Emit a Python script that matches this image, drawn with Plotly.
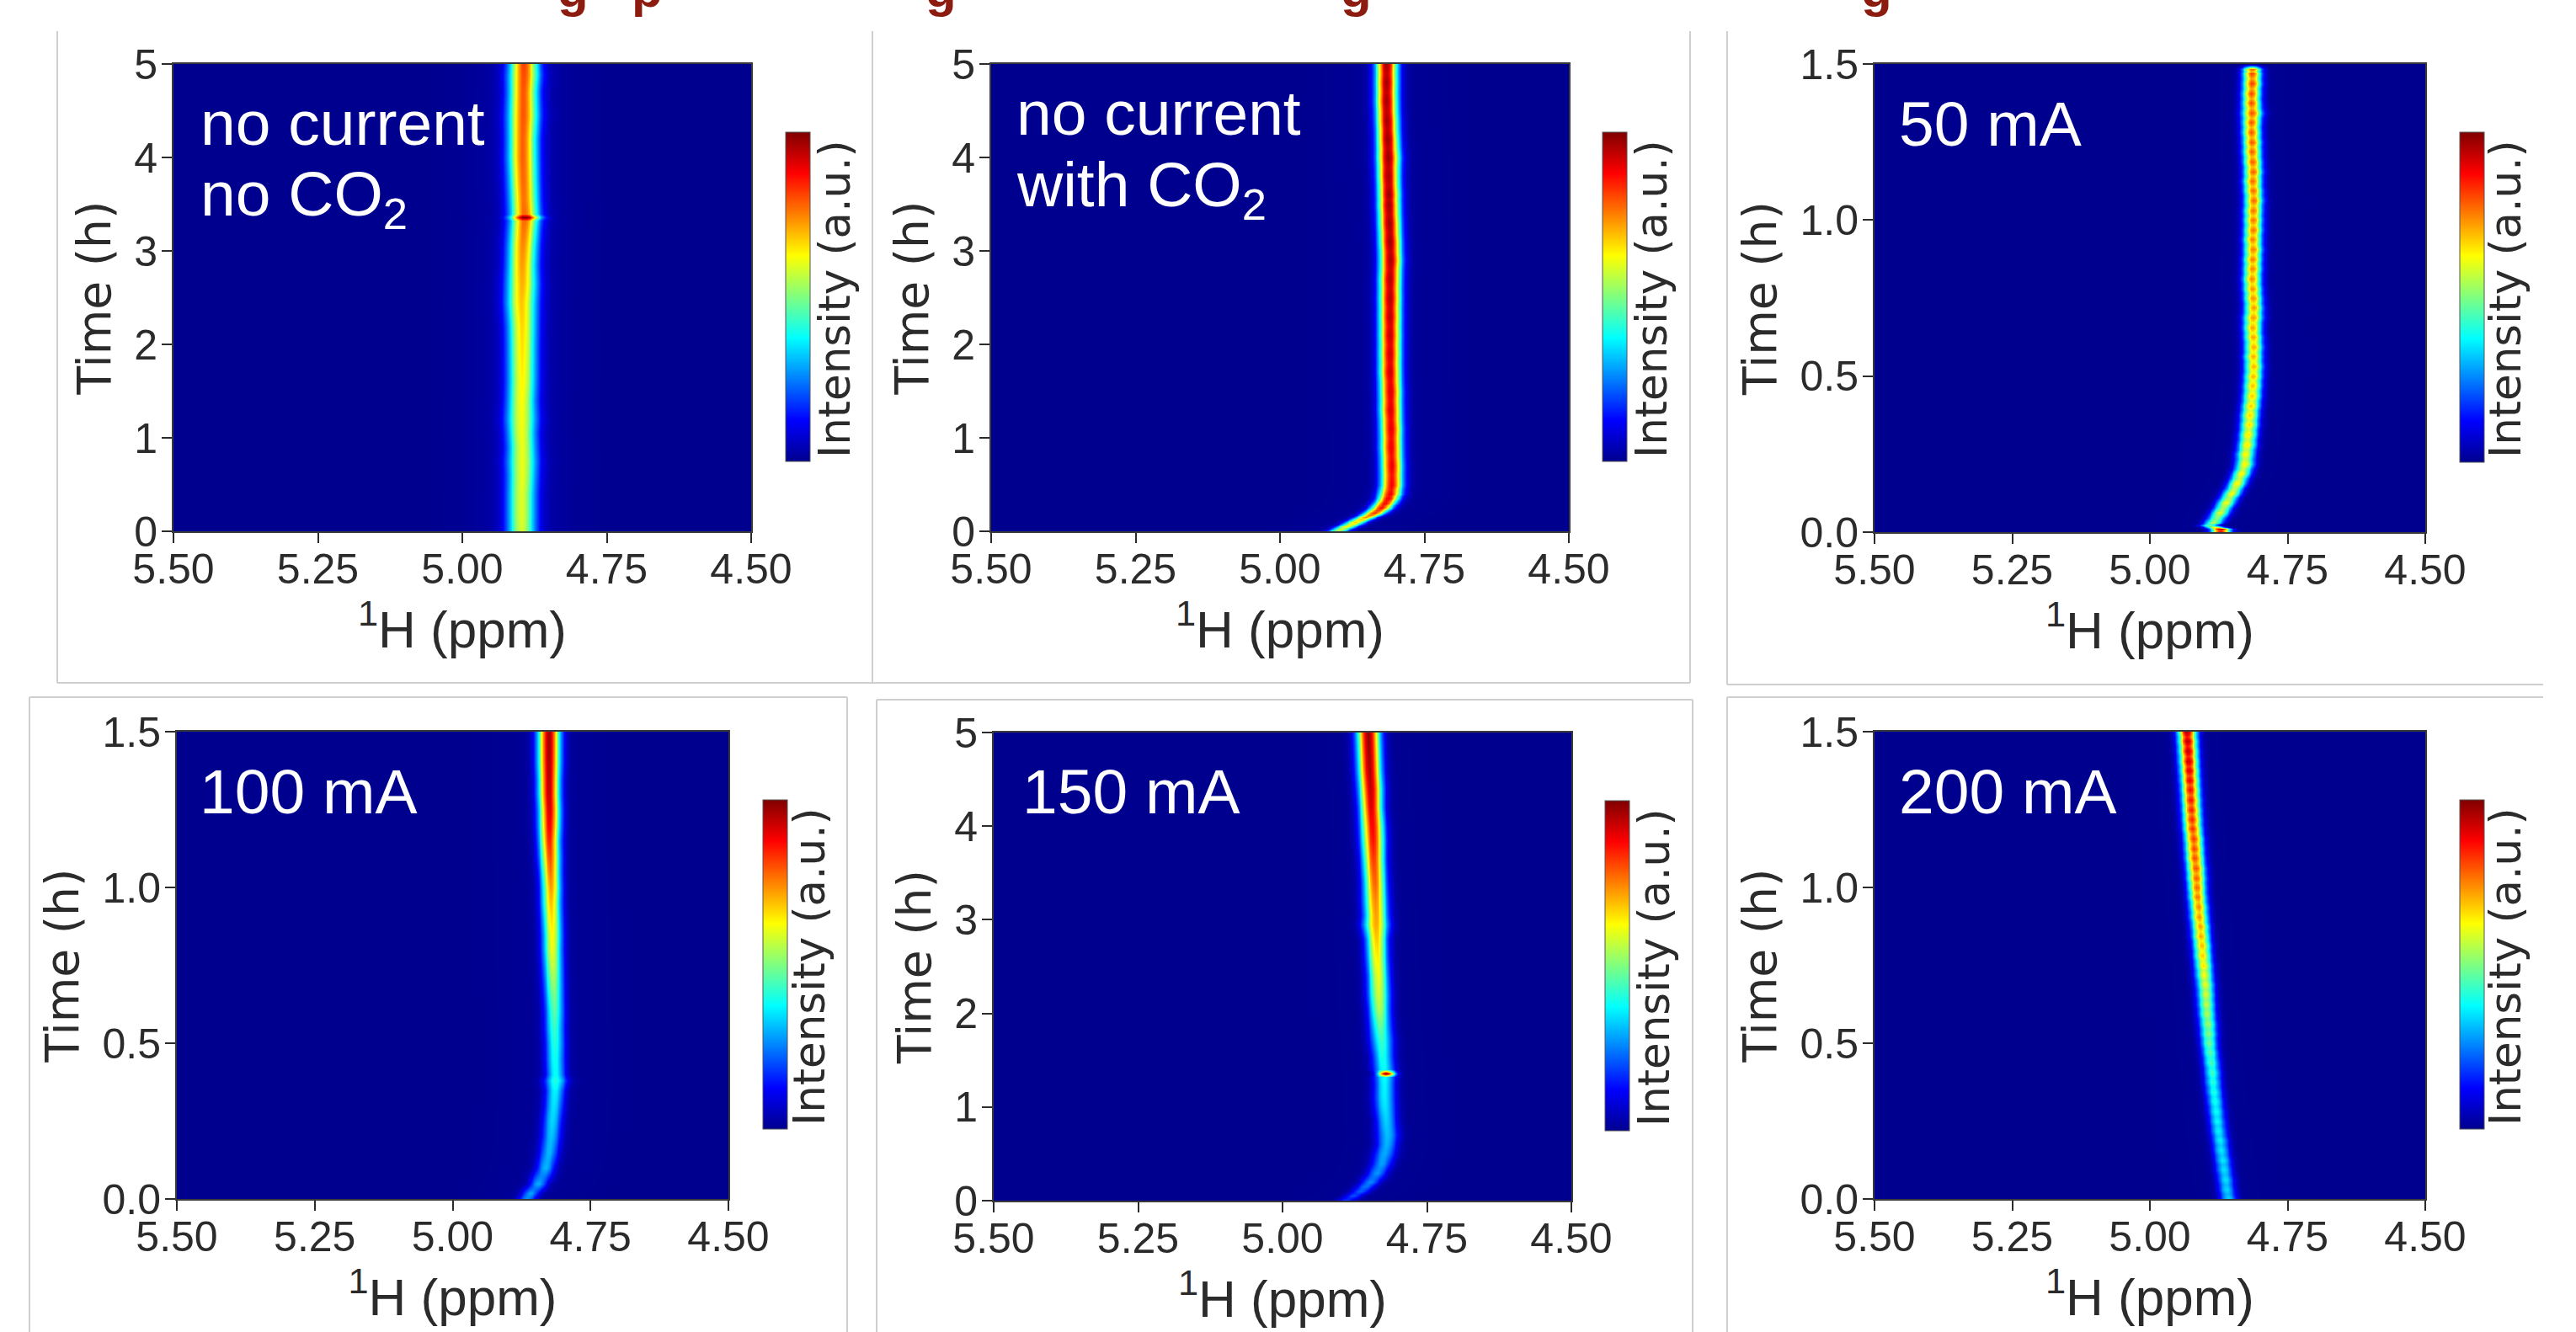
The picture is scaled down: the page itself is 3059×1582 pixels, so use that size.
import numpy as np
import plotly.graph_objects as go

W, H = 3059, 1582

# ---------- values ----------
ppm_ticks = [5.50, 5.25, 5.00, 4.75, 4.50]
ppm_labels = ["5.50", "5.25", "5.00", "4.75", "4.50"]
long_ticks = [0, 1, 2, 3, 4, 5]
long_labels = ["0", "1", "2", "3", "4", "5"]
short_ticks = [0.0, 0.5, 1.0, 1.5]
short_labels = ["0.0", "0.5", "1.0", "1.5"]

# per-row readings: time (h), peak centre (ppm), peak intensity (0-1), peak width (ppm)
t_a = [0, .2, .4, .6, .75, .9, 1.05, 1.2, 1.4, 1.6, 1.8, 2.0, 2.2, 2.45, 2.65, 2.85, 3.05, 3.25, 3.32, 3.36, 3.40, 3.55, 3.75, 4.0, 4.2, 4.45, 4.7, 4.88, 5]
c_a = [4.898, 4.898, 4.898, 4.897, 4.897, 4.897, 4.898, 4.898, 4.898, 4.897, 4.897, 4.897, 4.897, 4.898, 4.897, 4.897, 4.896, 4.894, 4.893, 4.892, 4.893, 4.894, 4.895, 4.896, 4.896, 4.895, 4.895, 4.894, 4.894]
h_a = [.55, .56, .56, .57, .57, .57, .58, .58, .59, .60, .61, .62, .63, .65, .67, .69, .71, .73, .74, 1.0, .74, .73, .74, .75, .75, .76, .76, .77, .78]
s_a = [.017, .017, .017, .0172, .0178, .017, .017, .018, .017, .017, .017, .017, .0172, .018, .018, .017, .017, .017, .017, .0175, .017, .017, .017, .0172, .017, .0178, .017, .0178, .017]

t_b = [0, .05, .1, .15, .2, .25, .3, .35, .4, .5, .7, .9, 1.1, 1.3, 1.5, 1.7, 1.9, 2.1, 2.3, 2.5, 2.7, 2.9, 3.1, 3.3, 3.5, 3.6, 3.8, 4.0, 4.2, 4.4, 4.6, 4.8, 5]
c_b = [4.902, 4.885, 4.870, 4.852, 4.837, 4.825, 4.819, 4.813, 4.810, 4.807, 4.807, 4.808, 4.808, 4.809, 4.809, 4.810, 4.810, 4.810, 4.810, 4.810, 4.810, 4.809, 4.810, 4.811, 4.812, 4.812, 4.813, 4.813, 4.814, 4.815, 4.816, 4.816, 4.816]
h_b = [.58, .62, .66, .74, .82, .86, .87, .88, .88, .88, .89, .89, .90, .91, .91, .92, .92, .93, .94, .95, .95, .96, .97, .97, .97, .97, .96, .97, .97, .96, .96, .96, .96]
s_b = [.011, .012, .012, .012, .013, .013, .013, .013, .0135, .013, .013, .013, .013, .013, .013, .013, .013, .013, .013, .013, .013, .013, .013, .013, .013, .013, .013, .0135, .013, .013, .013, .013, .013]

t_c = [0, .011, .022, .031, .0625, .094, .125, .156, .188, .219, .25, .281, .313, .344, .375, .406, .438, .469, .5, .531, .563, .594, .625, .656, .688, .719, .75, .781, .813, .844, .875, .906, .938, .969, 1.0, 1.031, 1.063, 1.094, 1.125, 1.156, 1.188, 1.219, 1.25, 1.281, 1.313, 1.344, 1.375, 1.406, 1.438, 1.469, 1.485, 1.5]
c_c = [4.872, 4.872, 4.892, 4.885, 4.873, 4.862, 4.852, 4.842, 4.834, 4.828, 4.827, 4.824, 4.822, 4.820, 4.819, 4.817, 4.815, 4.814, 4.813, 4.812, 4.813, 4.812, 4.813, 4.814, 4.813, 4.812, 4.813, 4.814, 4.815, 4.814, 4.814, 4.813, 4.814, 4.813, 4.813, 4.813, 4.812, 4.813, 4.814, 4.813, 4.814, 4.815, 4.815, 4.816, 4.816, 4.815, 4.816, 4.816, 4.815, 4.815, 4.815, 4.815]
h_c = [.92, .95, .48, .55, .60, .62, .63, .64, .64, .64, .64, .65, .65, .66, .67, .68, .68, .69, .70, .70, .71, .71, .72, .72, .73, .73, .74, .74, .75, .75, .76, .76, .76, .77, .77, .77, .78, .78, .78, .79, .79, .79, .80, .80, .80, .80, .81, .81, .82, .82, .78, 0]
s_c = [.012, .012, .0115, .0115, .0115, .0115, .0115, .0115, .0115, .0115, .0115, .0115, .0115, .0115, .0115, .0115, .0115, .0115, .0115, .0115, .0115, .0115, .0115, .0115, .012, .0115, .0115, .0115, .0115, .0115, .0115, .0115, .0115, .0115, .0115, .0115, .0115, .0115, .0115, .0115, .0115, .0115, .0115, .0115, .0115, .0125, .0115, .0115, .0115, .0115, .0115, .0115]

t_d = [0, .02, .05, .1, .15, .2, .25, .3, .35, .38, .4, .45, .5, .55, .6, .65, .7, .75, .8, .85, .9, .95, 1.0, 1.05, 1.1, 1.15, 1.2, 1.25, 1.3, 1.35, 1.4, 1.45, 1.5]
c_d = [4.866, 4.859, 4.845, 4.832, 4.826, 4.822, 4.820, 4.817, 4.815, 4.814, 4.814, 4.815, 4.815, 4.816, 4.816, 4.817, 4.818, 4.819, 4.820, 4.820, 4.821, 4.822, 4.822, 4.823, 4.824, 4.825, 4.825, 4.825, 4.826, 4.826, 4.826, 4.826, 4.826]
h_d = [.26, .28, .29, .30, .30, .31, .33, .34, .36, .40, .37, .38, .40, .42, .45, .48, .52, .56, .60, .62, .65, .68, .72, .76, .80, .84, .88, .91, .93, .94, .95, .96, .96]
s_d = [.011, .011, .011, .0115, .012, .012, .012, .012, .012, .014, .012, .012, .012, .012, .012, .012, .012, .012, .012, .012, .012, .012, .012, .012, .0125, .0125, .013, .013, .013, .013, .0135, .0135, .0135]

t_e = [0, .05, .1, .15, .2, .3, .4, .5, .6, .7, .85, 1.0, 1.1, 1.25, 1.32, 1.36, 1.40, 1.55, 1.72, 1.85, 2.05, 2.2, 2.4, 2.6, 2.8, 2.95, 3.05, 3.2, 3.4, 3.65, 3.85, 4.0, 4.2, 4.4, 4.6, 4.8, 5]
c_e = [4.891, 4.878, 4.866, 4.857, 4.849, 4.837, 4.829, 4.824, 4.820, 4.819, 4.821, 4.823, 4.824, 4.824, 4.824, 4.821, 4.825, 4.827, 4.829, 4.831, 4.833, 4.834, 4.835, 4.837, 4.838, 4.839, 4.839, 4.840, 4.841, 4.843, 4.844, 4.845, 4.847, 4.848, 4.850, 4.851, 4.852]
h_e = [.18, .20, .22, .24, .26, .27, .28, .29, .30, .31, .33, .35, .36, .37, .38, 1.0, .38, .40, .43, .47, .55, .58, .61, .64, .68, .71, .72, .74, .78, .82, .86, .88, .91, .94, .96, .97, .98]
s_e = [.010, .0105, .011, .0115, .0115, .012, .0125, .0135, .0125, .0135, .0125, .013, .013, .0125, .013, .0105, .013, .0125, .0135, .013, .0125, .013, .0125, .0125, .0125, .0145, .0135, .0135, .013, .013, .0135, .0135, .013, .0135, .0135, .0135, .0135]

t_f = [0, .031, .0625, .094, .125, .156, .188, .219, .25, .281, .313, .344, .375, .406, .438, .469, .5, .531, .563, .594, .625, .656, .688, .719, .75, .781, .813, .844, .875, .906, .938, .969, 1.0, 1.031, 1.063, 1.094, 1.125, 1.156, 1.188, 1.219, 1.25, 1.281, 1.313, 1.344, 1.375, 1.406, 1.438, 1.469, 1.5]
c_f = [4.858, 4.861, 4.863, 4.866, 4.868, 4.871, 4.873, 4.876, 4.878, 4.880, 4.882, 4.884, 4.886, 4.887, 4.889, 4.891, 4.893, 4.894, 4.895, 4.897, 4.898, 4.899, 4.900, 4.902, 4.903, 4.905, 4.906, 4.908, 4.909, 4.911, 4.912, 4.914, 4.915, 4.916, 4.917, 4.919, 4.920, 4.921, 4.923, 4.924, 4.925, 4.926, 4.927, 4.928, 4.929, 4.930, 4.931, 4.932, 4.933]
h_f = [.34, .34, .35, .35, .36, .36, .37, .37, .38, .39, .40, .41, .42, .44, .45, .47, .49, .51, .53, .55, .57, .59, .61, .63, .66, .68, .70, .72, .73, .74, .75, .77, .78, .79, .80, .81, .82, .83, .84, .85, .86, .87, .88, .90, .92, .94, .95, .96, .97]
s_f = [.0105] * 17 + [.011] * 16 + [.0115] * 16

titles = [["no current", "no CO<sub>2</sub>"], ["no current", "with CO<sub>2</sub>"], ["50 mA"], ["100 mA"], ["150 mA"], ["200 mA"]]
times = [t_a, t_b, t_c, t_d, t_e, t_f]
centres = [c_a, c_b, c_c, c_d, c_e, c_f]
heights = [h_a, h_b, h_c, h_d, h_e, h_f]
widths = [s_a, s_b, s_c, s_d, s_e, s_f]
wing_amp = [.035, .012, .003, .010, .004, .003]
bead_dip = [1.0, .97, .88, 1.0, 1.0, .90]
x_label = "<sup>1</sup>H (ppm)"
y_label = "Time (h)"
bar_label = "Intensity (a.u.)"
title_bits = ["g", "p", "g", "g", "g"]

# ---------- layout in page pixels ----------
plots = [(206, 892, 76, 631), (1177, 1863, 76, 631), (2226, 2880, 76, 632),
         (210, 865, 869, 1424), (1180, 1866, 870, 1426), (2226, 2880, 869, 1424)]
bars = [(933, 157, 548), (1903, 157, 548), (2921, 157, 549),
        (906, 950, 1341), (1906, 951, 1343), (2921, 950, 1341)]
bar_text = [(991, 355), (1961, 355), (2975, 355), (961, 1148), (1964, 1149), (2975, 1148)]
labels = [[(237, 172), (237, 267)], [(1206, 160), (1206, 256)], [(2254, 173)],
          [(236, 966)], [(1213, 966)], [(2254, 966)]]
frames = [(68, 1036, 37, 811, "lbr"), (1036, 2007, 37, 811, "br"), (2051, 3020, 37, 813, "lb"),
          (35, 1006, 828, 1590, "ltr"), (1041, 2010, 831, 1590, "ltr"), (2051, 3020, 828, 1590, "lt")]
title_pos = [680, 768, 1117, 1610, 2228]

JET = [[0, "#00008f"], [.125, "#0000ff"], [.375, "#00ffff"], [.625, "#ffff00"], [.875, "#ff0000"], [1, "#800000"]]
TICK = "Liberation Sans"
LAB = "DejaVu Sans"
INK = "#2b2b2b"
GREY = "#cfcfcf"

def px(x):
    return x / W

def py(y):
    return 1 - y / H

x_grid = np.arange(4.5, 5.5001, 0.004)
fig = go.Figure()
layout = {}
shapes = []
anns = []

for i in range(6):
    n = "" if i == 0 else str(i + 1)
    x0, x1, y0, y1 = plots[i]
    t = np.array(times[i], float)
    c = np.array(centres[i], float)
    h = np.array(heights[i], float)
    s = np.array(widths[i], float)
    if bead_dip[i] < 1:
        # lower rows between the read rows give the beaded look of the original
        tm, cm, hm, sm = (t[:-1] + t[1:]) / 2, (c[:-1] + c[1:]) / 2, (h[:-1] + h[1:]) / 2 * bead_dip[i], (s[:-1] + s[1:]) / 2
        t = np.insert(t, range(1, len(t)), tm)
        c = np.insert(c, range(1, len(c)), cm)
        h = np.insert(h, range(1, len(h)), hm)
        s = np.insert(s, range(1, len(s)), sm)
    z = []
    for ci, hi, si in zip(c, h, s):
        z.append(hi * np.exp(-(x_grid - ci) ** 2 / (2 * si ** 2)) + wing_amp[i] * (hi > 0) * np.exp(-(x_grid - ci) ** 2 / (2 * .055 ** 2)))
    bx, by0, by1 = bars[i]
    fig.add_trace(go.Heatmap(
        x=x_grid, y=t, z=np.clip(np.array(z), 0, 1), zmin=0, zmax=1, zsmooth="best",
        colorscale=JET, xaxis="x" + n, yaxis="y" + n, hoverinfo="skip",
        colorbar=dict(
            x=px(bx), xanchor="left", y=py(by1), yanchor="bottom",
            lenmode="pixels", len=by1 - by0, thicknessmode="pixels", thickness=29,
            ticks="", showticklabels=False, outlinecolor="#555555", outlinewidth=1, xpad=0, ypad=0,
        ),
    ))
    long_axis = max(t) > 2
    layout["xaxis" + n] = dict(
        domain=[px(x0), px(x1)], range=[5.5, 4.5], anchor="y" + n, tickmode="array",
        tickvals=ppm_ticks, ticktext=ppm_labels, ticks="outside", ticklen=12, tickwidth=2, tickcolor=INK,
        ticklabelstandoff=-12,
        showline=True, mirror=True, linecolor="#3a3a3a", linewidth=2, showgrid=False, zeroline=False,
        tickfont=dict(family=TICK, size=50, color=INK),
        title=dict(text=x_label, standoff=16, font=dict(family=TICK, size=62, color=INK)),
    )
    layout["yaxis" + n] = dict(
        domain=[py(y1), py(y0)], range=[0, 5 if long_axis else 1.5], anchor="x" + n, tickmode="array",
        tickvals=long_ticks if long_axis else short_ticks, ticktext=long_labels if long_axis else short_labels,
        ticks="outside", ticklen=12, tickwidth=2, tickcolor=INK, ticklabelstandoff=-5,
        showline=True, mirror=True, linecolor="#3a3a3a", linewidth=2, showgrid=False, zeroline=False,
        tickfont=dict(family=TICK, size=50, color=INK),
        title=dict(text=y_label, standoff=10, font=dict(family=LAB, size=55, color=INK)),
    )
    tx, ty = bar_text[i]
    anns.append(dict(x=px(tx), y=py(ty), xref="paper", yref="paper", xanchor="center", yanchor="middle", textangle=-90,
                     text=bar_label, showarrow=False, borderpad=0, font=dict(family=LAB, size=51.5, color=INK)))
    for (lx, base), txt in zip(labels[i], titles[i]):
        anns.append(dict(x=px(lx), y=py(base + 17), xref="paper", yref="paper", xanchor="left", yanchor="bottom",
                         text=txt, showarrow=False, borderpad=0, font=dict(family=TICK, size=75, color="white")))
    fx0, fx1, fy0, fy1, sides = frames[i]
    segs = {"l": (fx0, fy0, fx0, fy1), "r": (fx1, fy0, fx1, fy1), "t": (fx0, fy0, fx1, fy0), "b": (fx0, fy1, fx1, fy1)}
    for side in sides:
        a, b, c2, d = segs[side]
        shapes.append(dict(type="line", xref="paper", yref="paper", x0=px(a), x1=px(c2), y0=py(b), y1=py(d),
                           line=dict(color=GREY, width=2), layer="below"))

for tx, bit in zip(title_pos, title_bits):
    anns.append(dict(x=px(tx), y=py(-13), xref="paper", yref="paper", xanchor="center", yanchor="middle",
                     text="<b>%s</b>" % bit, showarrow=False, borderpad=0,
                     font=dict(family=TICK, size=60, color="#8c1c10")))

fig.update_layout(width=W, height=H, margin=dict(l=0, r=0, t=0, b=0, autoexpand=False),
                  paper_bgcolor="white", plot_bgcolor="#00008f", showlegend=False,
                  shapes=shapes, annotations=anns, **layout)
fig.write_html("out.html", config={"displayModeBar": False},
               post_script="document.body.style.margin='0';document.documentElement.style.overflow='hidden';")
